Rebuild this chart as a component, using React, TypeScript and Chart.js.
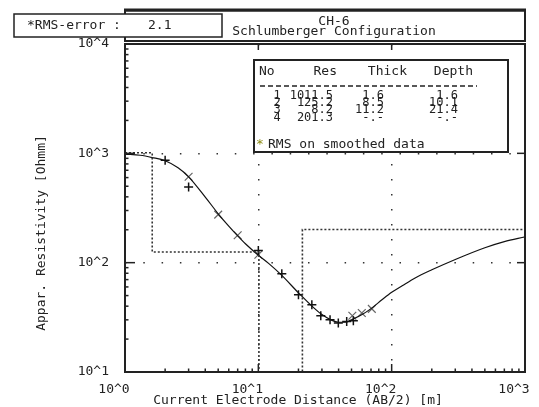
import React, { useEffect, useRef } from 'react';
import { Chart, registerables } from 'chart.js';

Chart.register(...registerables);

// ---- data ----
const layerNo = ['1', '2', '3', '4'];
const layerRes = [1011.5, 125.2, 8.2, 201.3];
const layerThick = ['1.6', '8.5', '11.2', '-.-'];
const layerDepthLabels = ['1.6', '10.1', '21.4', '-.-'];
const layerDepth = [1.6, 10.1, 21.4];

const measuredX = [2, 3, 10, 15, 20, 25.2, 29.4, 34.5, 39.8, 46, 51.6];
const measuredY = [863, 491, 129, 79, 50.8, 41.2, 32.7, 30, 28, 28.9, 29.4];

const smoothedX = [3, 5, 7, 10, 50.7, 59.7, 71];
const smoothedY = [611, 275, 178, 118, 32.7, 34.6, 37.8];

const curveX = [1, 1.3, 1.6, 2, 2.5, 3, 4, 5, 6, 7, 8, 10, 12, 15, 20, 25, 30, 35, 40, 45, 50, 60, 70, 85, 100, 120, 150, 200, 300, 500, 700, 1000];
const curveY = [985, 960, 915, 855, 738, 610, 398, 280, 216, 176, 149, 117, 98, 76.5, 53, 40.5, 33.5, 30, 28.5, 28.5, 30, 33.5, 38, 46, 53.5, 61.5, 72.5, 86, 107, 137, 156, 172];

const xTickValues = [1, 10, 100, 1000];
const xTickLabels = ['10^0', '10^1', '10^2', '10^3'];
const yTickValues = [10, 100, 1000, 10000];
const yTickLabels = ['10^1', '10^2', '10^3', '10^4'];

const rmsLabel = '*RMS-error :';
const rmsValue = '2.1';
const titleLine1 = 'CH-6';
const titleLine2 = 'Schlumberger Configuration';
const xTitle = 'Current Electrode Distance (AB/2) [m]';
const yTitle = 'Appar. Resistivity [Ohmm]';
const tableHeader = ['No', 'Res', 'Thick', 'Depth'];
const tableNote = 'RMS on smoothed data';

const FAMILY = "'DejaVu Sans Mono', monospace";
const FONT = `13px ${FAMILY}`;
const ROW_FONT = `12px ${FAMILY}`;
const INK = '#222';

function modelPoints() {
  const pts: { x: number; y: number }[] = [];
  let prev = 1;
  for (let i = 0; i < layerRes.length; i++) {
    const end = i < layerDepth.length ? layerDepth[i] : 1000;
    pts.push({ x: prev, y: layerRes[i] });
    pts.push({ x: end, y: layerRes[i] });
    prev = end;
  }
  return pts;
}

const decorPlugin = {
  id: 'decor',
  afterDraw(chart: any) {
    const { ctx, chartArea: a } = chart;
    const xs = chart.scales.x;
    const ys = chart.scales.y;
    const line = (x1: number, y1: number, x2: number, y2: number) => {
      ctx.beginPath();
      ctx.moveTo(x1, y1);
      ctx.lineTo(x2, y2);
      ctx.stroke();
    };
    ctx.save();
    ctx.strokeStyle = INK;
    ctx.lineWidth = 1.5;
    // x ticks (inward)
    for (let e = 0; e < 3; e++) {
      for (let k = 1; k <= 9; k++) {
        const v = k * Math.pow(10, e);
        if (v <= 1 || v >= 1000) continue;
        const px = xs.getPixelForValue(v);
        const len = k === 1 ? 8 : 3.5;
        line(px, a.bottom, px, a.bottom - len);
        if (k === 1) line(px, a.top, px, a.top + 6);
      }
    }
    // y ticks (inward)
    for (let e = 1; e < 4; e++) {
      for (let k = 1; k <= 9; k++) {
        const v = k * Math.pow(10, e);
        if (v <= 10 || v >= 10000) continue;
        const py = ys.getPixelForValue(v);
        const len = k === 1 ? 10 : 3.5;
        line(a.left, py, a.left + len, py);
        if (k === 1) line(a.right, py, a.right - 8, py);
      }
    }
    // plot border
    ctx.lineWidth = 2;
    ctx.strokeRect(a.left, a.top, a.right - a.left, a.bottom - a.top);

    // title box
    ctx.fillStyle = '#fff';
    ctx.fillRect(a.left, 10, a.right - a.left, 31);
    ctx.lineWidth = 2;
    ctx.strokeRect(a.left, 10.5, a.right - a.left, 30.5);
    ctx.lineWidth = 3;
    line(a.left - 1, 10, a.right + 1, 10);

    ctx.fillStyle = INK;
    ctx.font = FONT;
    ctx.textBaseline = 'middle';
    ctx.textAlign = 'center';
    ctx.fillText(titleLine1, 334, 22);
    ctx.fillText(titleLine2, 334, 32);

    // RMS box
    ctx.fillStyle = '#fff';
    ctx.fillRect(14, 14, 208, 23);
    ctx.lineWidth = 1.5;
    ctx.strokeRect(14, 14, 208, 23);
    ctx.fillStyle = INK;
    ctx.textAlign = 'left';
    ctx.fillText(rmsLabel, 27, 26);
    ctx.fillText(rmsValue, 148, 26);

    // legend table
    const bx = 254, by = 60, bw = 254, bh = 92;
    ctx.fillStyle = '#fff';
    ctx.fillRect(bx, by, bw, bh);
    ctx.lineWidth = 2;
    ctx.strokeRect(bx, by, bw, bh);
    ctx.fillStyle = INK;
    ctx.textAlign = 'left';
    ctx.fillText(tableHeader[0], 259, 72);
    ctx.textAlign = 'right';
    ctx.fillText(tableHeader[1], 337, 72);
    ctx.fillText(tableHeader[2], 407, 72);
    ctx.fillText(tableHeader[3], 473, 72);
    ctx.save();
    ctx.setLineDash([5, 3]);
    ctx.lineWidth = 1.3;
    line(260, 86, 477, 86);
    ctx.restore();
    ctx.font = ROW_FONT;
    const rowY = [95.5, 102.8, 110.1, 117.4];
    for (let i = 0; i < layerNo.length; i++) {
      const y = rowY[i];
      ctx.textAlign = 'center';
      ctx.fillText(layerNo[i], 277, y);
      ctx.textAlign = 'right';
      ctx.fillText(layerRes[i].toFixed(1), 333, y);
      ctx.fillText(layerThick[i], 384, y);
      ctx.fillText(layerDepthLabels[i], 458, y);
    }
    ctx.font = FONT;
    ctx.textAlign = 'left';
    ctx.fillStyle = '#8a8a10';
    ctx.fillText('*', 256, 145);
    ctx.fillStyle = INK;
    ctx.fillText(tableNote, 268, 145);

    // axis titles
    ctx.textAlign = 'center';
    ctx.fillText(xTitle, 298, 401);
    ctx.save();
    ctx.translate(42, 233);
    ctx.rotate(-Math.PI / 2);
    ctx.fillText(yTitle, 0, 0);
    ctx.restore();

    ctx.restore();
  },
};

export default function App() {
  const ref = useRef<HTMLCanvasElement | null>(null);
  useEffect(() => {
    document.body.style.margin = '0';
    const canvas = ref.current;
    if (!canvas) return;
    const tickFont = { family: FAMILY, size: 13 };
    const zeroPad = (s: any) => {
      s.paddingLeft = 0;
      s.paddingRight = 0;
      s.paddingTop = 0;
      s.paddingBottom = 0;
    };
    const chart = new Chart(canvas, {
      type: 'scatter',
      data: {
        datasets: [
          {
            label: 'model',
            data: modelPoints(),
            showLine: true,
            borderColor: '#333',
            borderWidth: 1.6,
            borderDash: [2, 2],
            pointRadius: 0,
            tension: 0,
          },
          {
            label: 'curve',
            data: curveX.map((x, i) => ({ x, y: curveY[i] })),
            showLine: true,
            borderColor: '#111',
            borderWidth: 1.2,
            pointRadius: 0,
            cubicInterpolationMode: 'monotone',
          },
          {
            label: 'measured',
            data: measuredX.map((x, i) => ({ x, y: measuredY[i] })),
            pointStyle: 'cross',
            pointRadius: 4.5,
            borderColor: '#111',
            backgroundColor: '#111',
            borderWidth: 1.5,
          },
          {
            label: 'smoothed',
            data: smoothedX.map((x, i) => ({ x, y: smoothedY[i] })),
            pointStyle: 'crossRot',
            pointRadius: 5.5,
            borderColor: '#666',
            backgroundColor: '#666',
            borderWidth: 1.2,
          },
        ],
      },
      options: {
        responsive: false,
        animation: false,
        devicePixelRatio: 1,
        layout: { padding: { left: 0, right: 14, top: 44, bottom: 0 } },
        plugins: { legend: { display: false }, tooltip: { enabled: false } },
        scales: {
          x: {
            type: 'logarithmic',
            min: 1,
            max: 1000,
            position: 'bottom',
            afterBuildTicks: (s: any) => {
              s.ticks = xTickValues.map((v) => ({ value: v }));
            },
            afterFit: (s: any) => {
              s.height = 35;
              zeroPad(s);
            },
            ticks: {
              autoSkip: false,
              maxRotation: 0,
              padding: 10,
              labelOffset: -11,
              font: tickFont,
              color: INK,
              callback: (v: any) => {
                const i = xTickValues.indexOf(Number(v));
                return i >= 0 ? xTickLabels[i] : '';
              },
            },
            grid: { drawTicks: false, color: '#333', lineWidth: 1.5 },
            border: { display: false, dash: [1.5, 13.5] },
          },
          y: {
            type: 'logarithmic',
            min: 10,
            max: 10000,
            position: 'left',
            afterBuildTicks: (s: any) => {
              s.ticks = yTickValues.map((v) => ({ value: v }));
            },
            afterFit: (s: any) => {
              s.width = 125;
              zeroPad(s);
            },
            ticks: {
              autoSkip: false,
              padding: 16,
              font: tickFont,
              color: INK,
              callback: (v: any) => {
                const i = yTickValues.indexOf(Number(v));
                return i >= 0 ? yTickLabels[i] : '';
              },
            },
            grid: { drawTicks: false, color: '#333', lineWidth: 1.5 },
            border: { display: false, dash: [1.5, 16.8] },
          },
        },
      },
      plugins: [decorPlugin],
    } as any);
    return () => chart.destroy();
  }, []);
  return <canvas ref={ref} width={539} height={407} style={{ display: 'block' }} />;
}
